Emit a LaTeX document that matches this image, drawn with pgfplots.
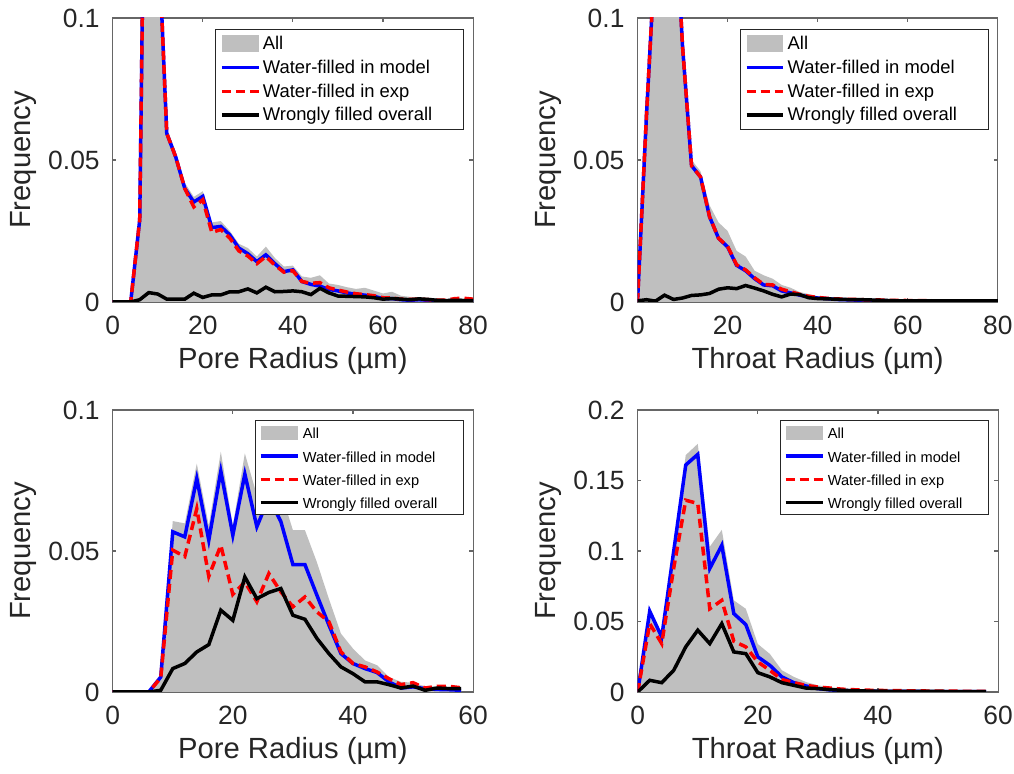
\documentclass[border=0pt]{standalone}
\usepackage{fontspec}
\setmainfont{Liberation Sans}
\usepackage{pgfplots}
\usepackage{pgfplotstable}
\pgfplotsset{compat=1.18}

\definecolor{allgray}{rgb}{0.75,0.75,0.75}
\definecolor{txtgray}{rgb}{0.15,0.15,0.15}
\definecolor{framegray}{rgb}{0.4,0.4,0.4}

% columns: radius, all elements, water-filled in model, water-filled in exp, wrongly filled
\pgfplotstableread{
x all model exp wrong
0 0 0 0 0
2 0 0 0 0
4 0 0 0 0
6 0.031 0.029 0.029 0.0008
8 0.29 0.28 0.28 0.0033
10 0.14 0.135 0.135 0.0028
12 0.061 0.0594 0.0594 0.0010
14 0.053 0.051 0.051 0.0010
16 0.042 0.040 0.040 0.0010
18 0.037 0.0352 0.0335 0.0031
20 0.039 0.0372 0.0360 0.0016
22 0.028 0.0262 0.0245 0.0025
24 0.0285 0.0266 0.0255 0.0025
26 0.025 0.0236 0.0225 0.0036
28 0.0205 0.0190 0.0180 0.0036
30 0.019 0.0170 0.0162 0.0046
32 0.016 0.0142 0.0135 0.0032
34 0.0195 0.0166 0.0160 0.0052
36 0.0155 0.0135 0.0130 0.0036
38 0.0125 0.0107 0.0105 0.0037
40 0.0128 0.0113 0.0110 0.0039
42 0.0090 0.0072 0.0072 0.0036
44 0.0085 0.0062 0.0066 0.0026
46 0.0094 0.0056 0.0068 0.0048
48 0.0065 0.0044 0.0050 0.0032
50 0.0060 0.0039 0.0042 0.0021
52 0.0052 0.0032 0.0035 0.0020
54 0.0046 0.0027 0.0029 0.0019
56 0.0050 0.0024 0.0026 0.0018
58 0.0040 0.0020 0.0022 0.0015
60 0.0030 0.0012 0.0015 0.0010
62 0.0036 0.0012 0.0014 0.0012
64 0.0022 0.0008 0.0010 0.0010
66 0.0018 0.0006 0.0009 0.0008
68 0.0016 0.0008 0.0010 0.0011
70 0.0015 0.0006 0.0008 0.0009
72 0.0012 0.0004 0.0007 0.0006
74 0.0010 0.0004 0.0006 0.0005
76 0.0013 0.0005 0.0012 0.0006
78 0.0012 0.0004 0.0013 0.0005
80 0.0010 0.0004 0.0010 0.0005
}\poreA

\pgfplotstableread{
x all model exp wrong
0 0 0 0 0.0004
2 0.070 0.066 0.066 0.0008
4 0.130 0.125 0.125 0.0003
6 0.21 0.20 0.20 0.0024
8 0.16 0.15 0.15 0.0009
10 0.095 0.090 0.090 0.0014
12 0.050 0.048 0.048 0.0023
14 0.046 0.044 0.044 0.0025
16 0.034 0.030 0.030 0.0030
18 0.028 0.0224 0.0224 0.0045
20 0.025 0.0194 0.0196 0.0050
22 0.018 0.0129 0.0131 0.0047
24 0.016 0.0110 0.0113 0.0058
26 0.011 0.0082 0.0085 0.0049
28 0.0094 0.0060 0.0062 0.0039
30 0.0082 0.0057 0.0060 0.0027
32 0.0060 0.0039 0.0045 0.0018
34 0.0050 0.0032 0.0036 0.0028
36 0.0035 0.0024 0.0027 0.0026
38 0.0028 0.0018 0.0020 0.0015
40 0.0020 0.0014 0.0016 0.0012
42 0.0016 0.0012 0.0013 0.0011
44 0.0013 0.0009 0.0011 0.0010
46 0.0011 0.0008 0.0010 0.0009
48 0.0010 0.0007 0.0009 0.0008
50 0.0009 0.0006 0.0008 0.0008
52 0.0008 0.0005 0.0007 0.0007
54 0.0007 0.0005 0.0007 0.0006
56 0.0007 0.0004 0.0006 0.0005
58 0.0006 0.0004 0.0006 0.0004
60 0.0006 0.0004 0.0005 0.0004
62 0.0006 0.0003 0.0005 0.0004
64 0.0005 0.0003 0.0005 0.0004
66 0.0005 0.0003 0.0004 0.0004
68 0.0005 0.0003 0.0004 0.0004
70 0.0005 0.0003 0.0004 0.0004
72 0.0004 0.0003 0.0004 0.0004
74 0.0004 0.0003 0.0004 0.0004
76 0.0004 0.0003 0.0004 0.0004
78 0.0004 0.0003 0.0004 0.0004
80 0.0004 0.0003 0.0004 0.0004
}\throatA

\pgfplotstableread{
x all model exp wrong
0 0 0 0 0
2 0 0 0 0
4 0 0 0 0
6 0 0 0 0
8 0.006 0.0053 0.0050 0.0006
10 0.0606 0.0568 0.0503 0.0083
12 0.0598 0.0550 0.0480 0.0101
14 0.0810 0.0757 0.0650 0.0142
16 0.0590 0.0538 0.0410 0.0168
18 0.0852 0.0783 0.0520 0.0290
20 0.0590 0.0556 0.0346 0.0254
22 0.0846 0.0773 0.0390 0.0408
24 0.0698 0.0586 0.0320 0.0331
26 0.0760 0.0689 0.0420 0.0353
28 0.0710 0.0604 0.0355 0.0367
30 0.0574 0.0452 0.0302 0.0272
32 0.0574 0.0452 0.0337 0.0258
34 0.0460 0.0343 0.0284 0.0190
36 0.0330 0.0237 0.0249 0.0136
38 0.0207 0.0136 0.0142 0.0089
40 0.0154 0.0101 0.0101 0.0065
42 0.0112 0.0083 0.0089 0.0036
44 0.0095 0.0069 0.0071 0.0036
46 0.0053 0.0036 0.0047 0.0026
48 0.0036 0.0014 0.0026 0.0014
50 0.0033 0.0018 0.0033 0.0021
52 0.0020 0.0012 0.0014 0.0006
54 0.0020 0.0009 0.0020 0.0014
56 0.0018 0.0008 0.0020 0.0012
58 0.0018 0.0006 0.0015 0.0012
}\poreB

\pgfplotstableread{
x all model exp wrong
0 0 0 0 0
2 0.059 0.0573 0.0485 0.0083
4 0.040 0.039 0.0343 0.0066
6 0.105 0.100 0.088 0.0154
8 0.168 0.161 0.136 0.032
10 0.176 0.1685 0.1337 0.0438
12 0.103 0.0876 0.059 0.0343
14 0.115 0.104 0.065 0.0485
16 0.065 0.0556 0.036 0.0284
18 0.059 0.0478 0.032 0.0272
20 0.034 0.0249 0.0213 0.0137
22 0.027 0.0189 0.0154 0.0107
24 0.0154 0.0107 0.0088 0.0066
26 0.0107 0.0066 0.0066 0.0047
28 0.0071 0.0043 0.0047 0.0028
30 0.0047 0.0024 0.0035 0.0024
32 0.0035 0.0015 0.0028 0.0017
34 0.0024 0.0010 0.0020 0.0012
36 0.0019 0.0008 0.0016 0.0009
38 0.0015 0.0006 0.0013 0.0007
40 0.0013 0.0005 0.0011 0.0006
42 0.0011 0.0004 0.0010 0.0005
44 0.0010 0.0004 0.0009 0.0005
46 0.0009 0.0004 0.0008 0.0004
48 0.0008 0.0003 0.0007 0.0004
50 0.0007 0.0003 0.0006 0.0004
52 0.0007 0.0003 0.0006 0.0003
54 0.0006 0.0002 0.0005 0.0003
56 0.0006 0.0002 0.0005 0.0003
58 0.0006 0.0002 0.0005 0.0003
}\throatB

\newcommand{\lt}[1]{\makebox[96.7pt][l]{#1}}
\newcommand{\lb}[1]{\makebox[77pt][l]{#1}}

\pgfplotsset{
  /pgf/number format/assume math mode=true,
  panel/.style={
    scale only axis, width=180.2pt, height=142pt,
    xmin=0, ymin=0,
    axis line style={draw=framegray, line width=0.55pt},
    tick style={draw=framegray, line width=0.55pt},
    tick align=inside, major tick length=1.8pt,
    every tick label/.append style={font=\fontsize{13.2}{15}\selectfont, text=txtgray},
    yticklabel style={/pgf/number format/fixed, /pgf/number format/precision=2},
    scaled y ticks=false,
    xticklabel shift=3.6pt, yticklabel shift=3pt,
    label style={font=\fontsize{14.6}{17}\selectfont, text=txtgray},
    xlabel style={at={(axis description cs:0.5,-0.208)}, anchor=center},
    ylabel style={at={(axis description cs:-0.248,0.5)}, anchor=center},
    ylabel={Frequency},
    legend cell align=left,
  },
  toplegend/.style={
    legend image code/.code={\draw[##1] (0pt,0pt) -- (18.35pt,0pt);},
    legend style={at={(axis description cs:0.975,0.961)}, anchor=north east,
      draw=txtgray, line width=0.5pt, fill=white,
      font=\fontsize{9.2}{11}\selectfont,
      inner xsep=2.35pt, inner ysep=1.3pt,
      nodes={inner xsep=1.3pt, inner ysep=1.41pt, text height=0.75em, text depth=0.15em}},
  },
  botlegend/.style={
    legend image code/.code={\draw[##1] (0pt,0pt) -- (18.65pt,0pt);},
    legend style={at={(axis description cs:0.975,0.9645)}, anchor=north east,
      draw=txtgray, line width=0.5pt, fill=white,
      font=\fontsize{7.3}{9}\selectfont,
      inner xsep=1.7pt, inner ysep=0.45pt,
      nodes={inner xsep=1.65pt, inner ysep=1.29pt, text height=0.75em, text depth=0.15em}},
  },
  allT/.style={fill=allgray, draw=none,
    legend image code/.code={\fill[allgray] (0pt,-4.25pt) rectangle (18.35pt,4.25pt);}},
  allB/.style={fill=allgray, draw=none,
    legend image code/.code={\fill[allgray] (0pt,-3.3pt) rectangle (18.65pt,3.3pt);}},
  model/.style={color=blue, line width=1.75pt},
  expt/.style={color=red, line width=1.75pt, dash pattern=on 4.5pt off 2.5pt},
  wrong/.style={color=black, line width=1.75pt},
}

\begin{document}
\begin{tikzpicture}
\path[use as bounding box] (0,0) rectangle (507pt,387pt);

% top left
\begin{axis}[panel, toplegend, at={(56.35pt,236pt)}, anchor=south west,
  xmax=80, ymax=0.1, xtick={0,20,40,60,80}, ytick={0,0.05,0.1},
  xlabel={Pore Radius (µm)}]
\addplot[allT] table[x=x,y=all]{\poreA} \closedcycle;
\addplot[model] table[x=x,y=model]{\poreA};
\addplot[expt] table[x=x,y=exp]{\poreA};
\addplot[wrong] table[x=x,y=wrong]{\poreA};
\legend{\lt{All},\lt{Water-filled in model},\lt{Water-filled in exp},\lt{Wrongly filled overall}}
\end{axis}

% top right
\begin{axis}[panel, toplegend, at={(318.75pt,236pt)}, anchor=south west,
  xmax=80, ymax=0.1, xtick={0,20,40,60,80}, ytick={0,0.05,0.1},
  xlabel={Throat Radius (µm)}]
\addplot[allT] table[x=x,y=all]{\throatA} \closedcycle;
\addplot[model] table[x=x,y=model]{\throatA};
\addplot[expt] table[x=x,y=exp]{\throatA};
\addplot[wrong] table[x=x,y=wrong]{\throatA};
\legend{\lt{All},\lt{Water-filled in model},\lt{Water-filled in exp},\lt{Wrongly filled overall}}
\end{axis}

% bottom left
\begin{axis}[panel, botlegend, at={(56.35pt,41pt)}, anchor=south west,
  height=141pt, xmax=60, ymax=0.1, xtick={0,20,40,60}, ytick={0,0.05,0.1},
  xlabel={Pore Radius (µm)}]
\addplot[allB] table[x=x,y=all]{\poreB} \closedcycle;
\addplot[model] table[x=x,y=model]{\poreB};
\addplot[expt] table[x=x,y=exp]{\poreB};
\addplot[wrong] table[x=x,y=wrong]{\poreB};
\legend{\lb{All},\lb{Water-filled in model},\lb{Water-filled in exp},\lb{Wrongly filled overall}}
\end{axis}

% bottom right
\begin{axis}[panel, botlegend, at={(318.85pt,41pt)}, anchor=south west,
  height=141pt, xmax=60, ymax=0.2, xtick={0,20,40,60}, ytick={0,0.05,0.1,0.15,0.2},
  xlabel={Throat Radius (µm)}]
\addplot[allB] table[x=x,y=all]{\throatB} \closedcycle;
\addplot[model] table[x=x,y=model]{\throatB};
\addplot[expt] table[x=x,y=exp]{\throatB};
\addplot[wrong] table[x=x,y=wrong]{\throatB};
\legend{\lb{All},\lb{Water-filled in model},\lb{Water-filled in exp},\lb{Wrongly filled overall}}
\end{axis}
\end{tikzpicture}
\end{document}
